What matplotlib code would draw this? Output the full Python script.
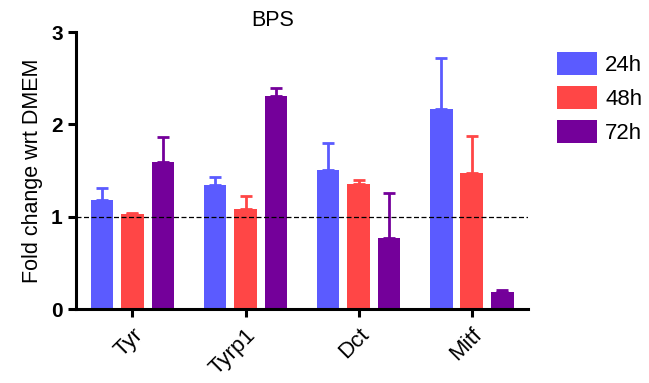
import numpy as np
import matplotlib
matplotlib.use("Agg")
import matplotlib.pyplot as plt

plt.rcParams['font.family'] = ['Liberation Sans', 'DejaVu Sans']

genes = ['Tyr', 'Tyrp1', 'Dct', 'Mitf']
times = ['24h', '48h', '72h']
colors = ['#5b5bff', '#ff4646', '#74009a']

# mean fold change and upper error (SEM) per time point
means = {
    '24h': [1.18, 1.34, 1.51, 2.17],
    '48h': [1.03, 1.08, 1.36, 1.47],
    '72h': [1.59, 2.31, 0.77, 0.18],
}
errs = {
    '24h': [0.13, 0.09, 0.29, 0.55],
    '48h': [0.01, 0.15, 0.04, 0.41],
    '72h': [0.27, 0.08, 0.49, 0.03],
}

fig = plt.figure(figsize=(6.49, 3.83), dpi=100)
ax = fig.add_axes([0.117, 0.193, 0.697, 0.723])

x = np.arange(len(genes))
step = 0.27
width = 0.2
for i, t in enumerate(times):
    pos = x + (i - 1) * step
    ax.bar(pos, means[t], width, color=colors[i], label=t, zorder=2)
    ax.errorbar(pos, means[t], yerr=[np.zeros(len(genes)), errs[t]],
                fmt='none', ecolor=colors[i], elinewidth=2, capsize=4,
                capthick=2, zorder=2)

ax.axhline(1, color='black', linestyle='--', linewidth=0.9, dashes=(4, 2), zorder=3)

ax.set_xlim(-0.5, 3.5)
ax.set_ylim(0, 3)
ax.set_yticks([0, 1, 2, 3])
ax.set_yticklabels(['0', '1', '2', '3'], fontsize=15, fontweight='bold')
ax.set_xticks(x)
ax.set_xticklabels(genes, rotation=45, ha='right', rotation_mode='anchor',
                   fontsize=16)
ax.set_ylabel('Fold change wrt DMEM', fontsize=15.5, labelpad=6)

for s in ['top', 'right']:
    ax.spines[s].set_visible(False)
for s in ['left', 'bottom']:
    ax.spines[s].set_linewidth(2.2)
ax.tick_params(axis='both', width=2.2, length=6, direction='out')
ax.tick_params(axis='x', pad=5)

ax.text(0.435, 1.005, 'BPS', transform=ax.transAxes, ha='center', va='bottom',
        fontsize=15.5)

leg = ax.legend(loc='upper left', bbox_to_anchor=(1.02, 1.0), frameon=False,
                fontsize=16, handlelength=1.8, handleheight=1.2,
                handletextpad=0.35, labelspacing=0.45)

fig.savefig('out.png', dpi=100)
